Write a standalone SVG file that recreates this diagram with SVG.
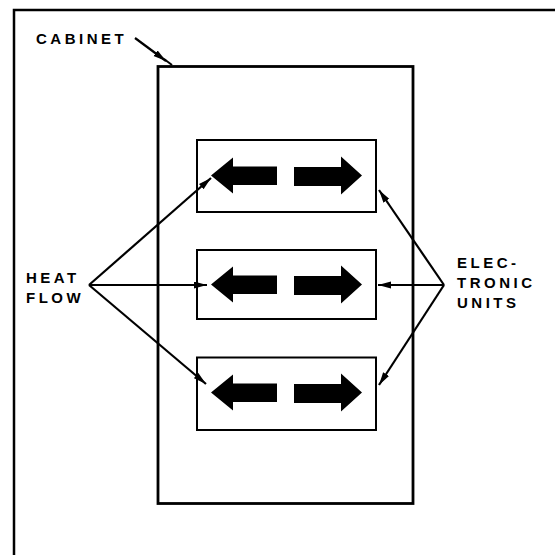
<svg xmlns="http://www.w3.org/2000/svg" width="555" height="555" viewBox="0 0 555 555">
<defs>
<style>
.lbl{font-family:"Liberation Sans",Arial,sans-serif;font-weight:bold;font-size:15px;letter-spacing:3.5px;fill:#000}
.box{fill:#fff;stroke:#000;stroke-width:2}
.cab{fill:#fff;stroke:#000;stroke-width:2.8}
.conn{stroke:#000;stroke-width:2.2;fill:none;marker-end:url(#ah)}
.fat{fill:#000;stroke:none}
</style>
<marker id="ah" markerUnits="userSpaceOnUse" markerWidth="14" markerHeight="8" refX="13" refY="3.5" orient="auto">
<path d="M0,0 L13,3.5 L0,7 Z" fill="#000"/>
</marker>
</defs>
<rect width="555" height="555" fill="#fff"/>
<g id="frame">
<path d="M14,555 L14,10 L555,10" fill="none" stroke="#000" stroke-width="2.5"/>
</g>
<g id="cabinet">
<rect class="cab" x="158" y="66.5" width="255" height="437"/>
<text class="lbl" x="36" y="43.5">CABINET</text>
</g>
<g id="unit1">
<rect class="box" x="197" y="140" width="179" height="72"/>
<polygon class="fat" points="211,175.5 233,157.5 233,166.5 277,166.5 277,185 233,185 233,193.5"/>
<polygon class="fat" points="294,167 341,167 341,156.5 362,175.5 341,194.5 341,186 294,186"/>
</g>
<g id="unit2">
<rect class="box" x="197" y="250" width="179" height="69"/>
<polygon class="fat" points="211,284.5 233,266.5 233,275.5 277,275.5 277,294 233,294 233,302.5"/>
<polygon class="fat" points="294,276 341,276 341,265.5 362,284.5 341,303.5 341,295 294,295"/>
</g>
<g id="unit3">
<rect class="box" x="197" y="357.5" width="179" height="72.5"/>
<polygon class="fat" points="211,392.5 233,374.5 233,383.5 277,383.5 277,402 233,402 233,410.5"/>
<polygon class="fat" points="294,384 341,384 341,373.5 362,392.5 341,411.5 341,403 294,403"/>
</g>
<g id="heatflow">
<text class="lbl" x="26" y="283">HEAT</text>
<text class="lbl" x="26" y="303">FLOW</text>
</g>
<g id="electronic">
<text class="lbl" x="457" y="268">ELEC-</text>
<text class="lbl" x="457" y="288">TRONIC</text>
<text class="lbl" x="457" y="308">UNITS</text>
</g>
<g id="connectors">
<line class="conn" x1="135" y1="38" x2="166" y2="61"/>
<line x1="164" y1="59" x2="172" y2="65" stroke="#000" stroke-width="2"/>
<line class="conn" x1="89" y1="285" x2="211" y2="178"/>
<line class="conn" x1="89" y1="285" x2="207" y2="285"/>
<line class="conn" x1="89" y1="285" x2="206" y2="384"/>
<line class="conn" x1="444" y1="285" x2="379" y2="190"/>
<line class="conn" x1="444" y1="285" x2="378" y2="285"/>
<line class="conn" x1="444" y1="285" x2="379" y2="385"/>
</g>
</svg>
